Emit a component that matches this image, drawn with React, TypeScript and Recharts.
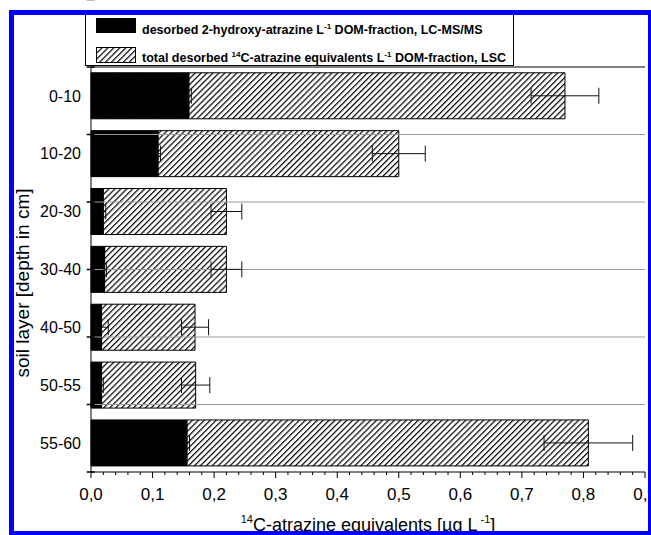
import * as React from "react";

import { Bar, BarChart, ErrorBar, ReferenceLine, XAxis, YAxis } from "recharts";

const layers = ["0-10", "10-20", "20-30", "30-40", "40-50", "50-55", "55-60"];
const hydroxy = [0.16, 0.11, 0.021, 0.023, 0.018, 0.018, 0.157];
const hydroxyErr = [0.003, 0.003, 0.003, 0.002, 0.01, 0.002, 0.003];
const total = [0.77, 0.5, 0.22, 0.22, 0.169, 0.17, 0.808];
const totalErr = [0.055, 0.043, 0.025, 0.025, 0.022, 0.023, 0.072];

const xMajor = [0, 0.1, 0.2, 0.3, 0.4, 0.5, 0.6, 0.7, 0.8, 0.9];
const xLabels = ["0,0", "0,1", "0,2", "0,3", "0,4", "0,5", "0,6", "0,7", "0,8", "0,9"];

const FONT = "'Liberation Sans', Arial, sans-serif";
const HATCH = 4.2;

const data = layers.map((layer, i) => ({
  layer,
  hydroxy: hydroxy[i],
  hydroxyErr: hydroxyErr[i],
  total: total[i],
  totalErr: totalErr[i],
}));

// minor ticks every 0.02, majors every 0.1
const xTicks: number[] = [];
for (let i = 0; i <= 45; i++) xTicks.push((i * 2) / 100);

// band boundaries (0 = top, layers.length = bottom)
const bounds = layers.map((_, i) => i).concat(layers.length);

const XTick = (props: any) => {
  const { x, y, payload } = props;
  const idx = xMajor.findIndex((m) => Math.abs(m - payload.value) < 1e-9);
  const major = idx >= 0;
  return (
    <g>
      <line x1={x} y1={y} x2={x} y2={y + (major ? 6 : 3)} stroke="#000" strokeWidth={1} />
      {major && (
        <text x={x} y={y + 28} textAnchor="middle" fontSize={17} fill="#000" fontFamily={FONT}>
          {xLabels[idx]}
        </text>
      )}
    </g>
  );
};

const XTitle = () => (
  <text x={368} y={531} textAnchor="middle" fontSize={18} fill="#000" fontFamily={FONT}>
    <tspan fontSize={11} dy={-8}>14</tspan>
    <tspan dy={8}>C-atrazine equivalents [µg L</tspan>
    <tspan fontSize={11} dy={-8}> -1</tspan>
    <tspan dy={8}>]</tspan>
  </text>
);

const YTitle = () => (
  <text
    transform="translate(29,283) rotate(-90)"
    textAnchor="middle"
    fontSize={19}
    fill="#000"
    fontFamily={FONT}
  >
    soil layer [depth in cm]
  </text>
);

const HatchPattern = ({ id }: { id: string }) => (
  <pattern id={id} patternUnits="userSpaceOnUse" width={HATCH} height={HATCH} patternTransform="rotate(45)">
    <rect width={HATCH} height={HATCH} fill="#fff" />
    <line x1={0.6} y1={0} x2={0.6} y2={HATCH} stroke="#000" strokeWidth={1.2} />
  </pattern>
);

const App = () => {
  return (
    <div
      style={{
        position: "absolute",
        left: 0,
        top: 0,
        width: 651,
        height: 535,
        background: "#fff",
        fontFamily: FONT,
        overflow: "hidden",
      }}
    >
      <BarChart
        width={651}
        height={535}
        data={data}
        layout="vertical"
        barCategoryGap="10%"
        margin={{ top: 67, right: 6, bottom: 0, left: 0 }}
      >
        <defs>
          <HatchPattern id="hatch" />
        </defs>
        <XAxis
          type="number"
          domain={[0, 0.9]}
          ticks={xTicks}
          interval={0}
          height={63}
          tickSize={0}
          tickMargin={0}
          tickLine={false}
          tick={<XTick />}
          axisLine={{ stroke: "#000", strokeWidth: 1 }}
          label={{ content: () => <XTitle /> }}
        />
        <YAxis
          yAxisId="cat"
          type="category"
          dataKey="layer"
          width={91}
          tickLine={false}
          tickSize={0}
          tickMargin={10}
          tick={{ fontSize: 16, fill: "#000", fontFamily: FONT }}
          axisLine={{ stroke: "#000", strokeWidth: 1 }}
          label={{ content: () => <YTitle /> }}
        />
        <YAxis yAxisId="cat2" type="category" dataKey="layer" hide />
        <YAxis yAxisId="grid" type="number" domain={[0, layers.length]} reversed hide />

        {bounds.slice(1, -1).map((b) => (
          <ReferenceLine
            key={"g" + b}
            yAxisId="grid"
            y={b}
            stroke={b === layers.length - 1 ? "#000" : "#9a9a9a"}
            strokeWidth={1}
          />
        ))}

        <Bar
          yAxisId="cat"
          dataKey="total"
          fill="url(#hatch)"
          stroke="#000"
          strokeWidth={1}
          isAnimationActive={false}
        >
          <ErrorBar dataKey="totalErr" direction="x" width={8} stroke="#111" strokeWidth={1} />
        </Bar>
        <Bar yAxisId="cat2" dataKey="hydroxy" fill="#000" isAnimationActive={false}>
          <ErrorBar dataKey="hydroxyErr" direction="x" width={8} stroke="#111" strokeWidth={1} />
        </Bar>

        {bounds.map((b) => (
          <ReferenceLine
            key={"t" + b}
            yAxisId="grid"
            ifOverflow="visible"
            segment={[
              { x: -0.007, y: b },
              { x: 0.006, y: b },
            ]}
            stroke="#000"
            strokeWidth={1.5}
          />
        ))}
      </BarChart>

      {/* legend */}
      <div
        style={{
          position: "absolute",
          left: 85,
          top: 12,
          width: 427,
          height: 52,
          border: "1px solid #000",
          background: "#fff",
          fontSize: 12.5,
          fontWeight: "bold",
          color: "#000",
        }}
      >
        <div style={{ position: "absolute", left: 10, top: 5, width: 40, height: 15, background: "#000" }} />
        <div style={{ position: "absolute", left: 56, top: 9, whiteSpace: "nowrap" }}>
          desorbed 2-hydroxy-atrazine L<sup style={{ fontSize: 8 }}>-1</sup> DOM-fraction, LC-MS/MS
        </div>
        <svg style={{ position: "absolute", left: 10, top: 34 }} width={40} height={16}>
          <defs>
            <HatchPattern id="hatchLeg" />
          </defs>
          <rect x={0.5} y={0.5} width={39} height={15} fill="url(#hatchLeg)" stroke="#000" />
        </svg>
        <div style={{ position: "absolute", left: 56, top: 37, whiteSpace: "nowrap" }}>
          total desorbed <sup style={{ fontSize: 8 }}>14</sup>C-atrazine equivalents L
          <sup style={{ fontSize: 8 }}>-1</sup> DOM-fraction, LSC
        </div>
      </div>

      {/* blue frame */}
      <div
        style={{
          position: "absolute",
          left: 9,
          top: 10,
          width: 642,
          height: 525,
          boxSizing: "border-box",
          borderTop: "5px solid #0000ff",
          borderLeft: "5px solid #0000ff",
          borderRight: "3px solid #0000ff",
          borderBottom: "4px solid #0000ff",
          pointerEvents: "none",
        }}
      />
    </div>
  );
};

export default App;
